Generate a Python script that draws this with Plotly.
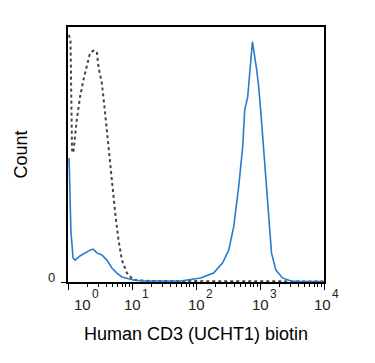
import math
import plotly.graph_objects as go

# Blue histogram (stained sample)
blue_x = [1.04, 1.11, 1.20, 1.29, 1.54, 1.85, 2.21, 2.47, 2.82, 3.38, 4.05, 4.85, 5.81, 6.96, 8.33, 10.5, 15,
          27.7, 57, 118, 188, 261, 324, 388, 464, 536, 577, 642, 690, 762, 889, 955, 1054, 1146, 1276, 1372,
          1513, 1767, 2250, 3037, 4355, 10000]
blue_y = [48.6, 20, 9.4, 8.6, 10.2, 11.4, 12.5, 12.9, 11.4, 10.6, 8.6, 5.5, 3.5, 2.0, 1.6, 0.8, 0.4,
          0.3, 0.4, 1.6, 3.5, 7.5, 12.5, 21.6, 37.3, 52.9, 67.5, 72.5, 83.1, 94.2, 83.1, 76.5, 63.5, 50.6,
          37.3, 24.3, 11.4, 4.7, 1.6, 0.4, 0.2, 0.2]

# Dotted histogram (control)
ctrl_x = [1.03, 1.094, 1.155, 1.21, 1.37, 1.54, 1.74, 1.96, 2.21, 2.49, 2.82, 2.99, 3.38, 3.80, 4.29, 4.85,
          5.46, 6.15, 6.96, 8.33, 10.5, 19.3, 10000]
ctrl_y = [96.9, 94.9, 51.8, 50.6, 63.5, 72.5, 79.2, 84.3, 89.8, 90.7, 90.3, 84.4, 78.0, 66.3, 52.9, 40.0,
          27.1, 16.5, 8.6, 3.5, 0.8, 0.4, 0.2]

major_vals = [1, 10, 100, 1000, 10000]
major_exp = ["0", "1", "2", "3", "4"]
minor_vals = [m * d for d in [1, 10, 100, 1000] for m in range(2, 10)]

FONT = "Liberation Sans, Arial, sans-serif"

fig = go.Figure()
fig.add_trace(go.Scatter(x=ctrl_x, y=ctrl_y, mode="lines",
                         line=dict(color="#444444", width=2, dash="dot"), hoverinfo="skip"))
fig.add_trace(go.Scatter(x=blue_x, y=blue_y, mode="lines",
                         line=dict(color="#2a7bd0", width=1.6), hoverinfo="skip"))

# page body has an 8px margin, so margins are reduced by 8 on left/top
fig.update_layout(
    width=375, height=363,
    margin=dict(l=60, r=59, t=19, b=89),
    paper_bgcolor="white", plot_bgcolor="white",
    showlegend=False,
    font=dict(family=FONT, color="black"),
)
fig.update_xaxes(
    type="log", range=[0, 4], automargin=False,
    tickmode="array", tickvals=major_vals, showticklabels=False,
    ticks="outside", ticklen=6, tickwidth=1, tickcolor="black",
    minor=dict(tickmode="array", tickvals=minor_vals, ticks="outside", ticklen=3, tickcolor="black", showgrid=False),
    showline=True, linecolor="black", linewidth=1.5, mirror=True,
    showgrid=False, zeroline=False,
)
fig.update_yaxes(
    range=[0, 100], automargin=False,
    tickmode="array", tickvals=[0], showticklabels=False,
    ticks="outside", ticklen=5, tickcolor="black",
    showline=True, linecolor="black", linewidth=1.5, mirror=True,
    showgrid=False, zeroline=False,
)

# tick labels: "10" centred on tick with a raised exponent (first one nudged right as in reference)
base_shift = [14, 0, 0, 0, -2]
for i, (v, e) in enumerate(zip(major_vals, major_exp)):
    fig.add_annotation(x=math.log10(v), xref="x", y=0, yref="paper",
                       text="10", showarrow=False,
                       xanchor="center", yanchor="middle", xshift=base_shift[i], yshift=-22,
                       font=dict(size=15, color="#222", family=FONT))
    fig.add_annotation(x=math.log10(v), xref="x", y=0, yref="paper",
                       text=e, showarrow=False,
                       xanchor="left", yanchor="middle", xshift=base_shift[i] + 7.5, yshift=-12,
                       font=dict(size=12, color="#222", family=FONT))

fig.add_annotation(x=0, xref="paper", y=0, yref="y", text="0", showarrow=False,
                   xanchor="right", yanchor="middle", xshift=-11, yshift=5,
                   font=dict(size=13, color="#222", family=FONT))
fig.add_annotation(x=0.5, xref="paper", y=0, yref="paper", text="Human CD3 (UCHT1) biotin",
                   showarrow=False, xanchor="center", yanchor="middle", xshift=0, yshift=-52,
                   font=dict(size=18, color="black", family=FONT))
fig.add_annotation(x=0, xref="paper", y=0.5, yref="paper", text="Count", textangle=-90,
                   showarrow=False, xanchor="center", yanchor="middle", xshift=-48, yshift=0,
                   font=dict(size=18, color="black", family=FONT))

fig.write_html("out.html")
